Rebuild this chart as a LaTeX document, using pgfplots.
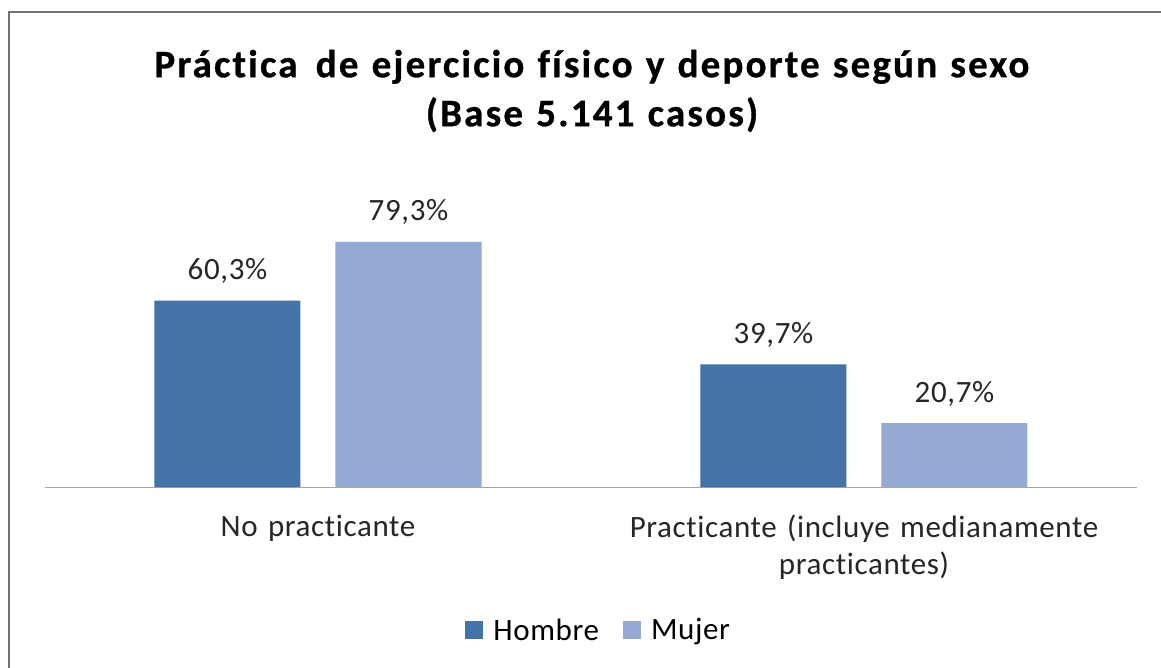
\documentclass[border=0pt]{standalone}
\usepackage{pgfplots}
\pgfplotsset{compat=1.18}
\usepackage{fontspec}
\setmainfont{Carlito}[Ligatures=NoCommon]
\newfontfamily\titlefont{Carlito Bold}[Ligatures=NoCommon, LetterSpace=5.6, WordSpace=1.2, FakeBold=0.8]
\newfontfamily\lblfont{Carlito}[Ligatures=NoCommon, LetterSpace=2]
\definecolor{hombre}{HTML}{4572A7}
\definecolor{mujer}{HTML}{95AAD2}
\begin{document}
\begin{tikzpicture}[x=1pt,y=1pt]
\useasboundingbox (0,0) rectangle (1161,-668);
\fill[white] (0,0) rectangle (1161,-668);
\draw[black!55, line width=2.5pt] (9,-668) -- (9,-12) -- (1161,-12);
\node[align=center, font=\titlefont\fontsize{39}{49}\selectfont] at (592,-91)
  {Práctica\hspace{5pt} de ejercicio físico y deporte según sexo\\(Base 5.141 casos)};
\begin{axis}[
  at={(45pt,-487pt)}, anchor=south west,
  scale only axis, width=1092pt, height=309pt,
  ymin=0, ymax=100, xmin=-0.5, xmax=1.5,
  hide y axis,
  axis x line*=bottom,
  x axis line style={-, draw=black!35, line width=1pt},
  xtick={0,1}, xtick style={draw=none},
  xticklabels={No practicante, Practicante (incluye medianamente\\practicantes)},
  xticklabel style={align=center, text width=520pt, font=\lblfont\fontsize{31}{37}\selectfont, text=black!85, yshift=-20pt},
  ybar=35pt, bar width=146pt,
  /pgf/number format/assume math mode=true,
  nodes near coords={\pgfmathprintnumber[fixed, precision=1, fixed zerofill, use comma]{\pgfplotspointmeta}\%},
  every node near coord/.append style={font=\lblfont\fontsize{31}{36}\selectfont, text=black!85, anchor=base, inner sep=0pt, yshift=21pt},
  legend style={at={(0.507,-0.463)}, anchor=center, draw=none, legend columns=2,
    font=\lblfont\fontsize{31}{36}\selectfont,
    /tikz/every odd column/.append style={column sep=8pt},
    /tikz/every even column/.append style={column sep=22pt}},
  legend image code/.code={\fill[#1] (0pt,-9pt) rectangle (18pt,9pt);},
]
\addplot[draw=none, fill=hombre] coordinates {(0,60.3) (1,39.7)};
\addplot[draw=none, fill=mujer] coordinates {(0,79.3) (1,20.7)};
\legend{Hombre, Mujer}
\end{axis}
\end{tikzpicture}
\end{document}
